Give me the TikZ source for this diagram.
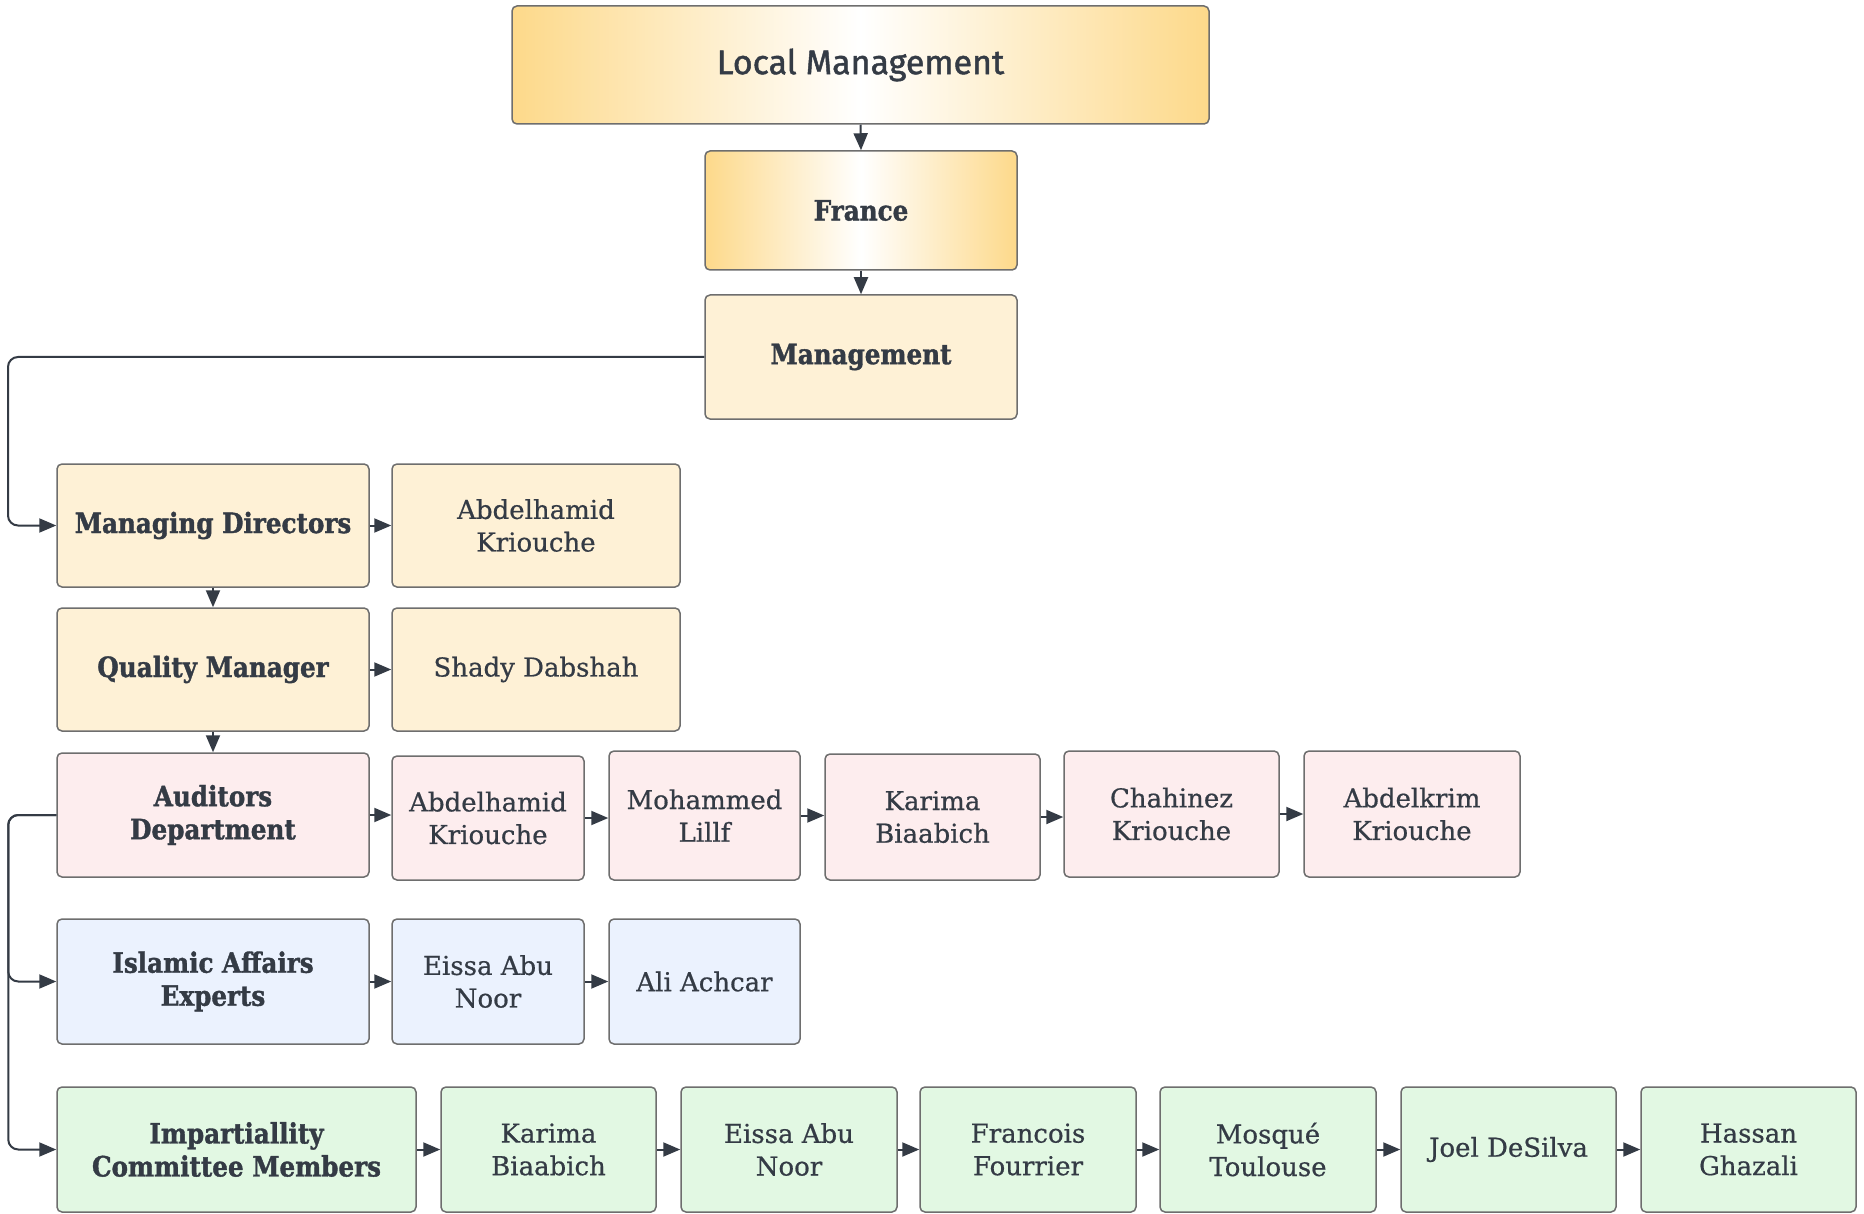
\documentclass[tikz,border=0pt]{standalone}
\usepackage{fontspec}
\setmainfont{DejaVu Serif}[FakeBold=0.6, BoldFeatures={FakeStretch=0.88, FakeBold=1.3}]
\newfontfamily\titlefont{Fira Sans}[FakeBold=1.3]
\usetikzlibrary{arrows.meta}

\definecolor{ink}{HTML}{343B45}
\definecolor{edge}{HTML}{6E6E6E}
\definecolor{gold}{HTML}{FDD98A}
\definecolor{cream}{HTML}{FEF1D6}
\definecolor{rose}{HTML}{FDEDEE}
\definecolor{sky}{HTML}{EBF2FE}
\definecolor{mint}{HTML}{E2F8E3}

% box given by its corners in pixel units: name, style, x1, y1, x2, y2, text
\newcommand\orgbox[7]{%
  \node[#2, minimum width={(#5-#3)*0.5pt}, minimum height={(#6-#4)*0.5pt}]
    (#1) at ({(#3+#5)/2},{(#4+#6)/2}) {#7};}

\tikzset{
  card/.style={draw=edge, line width=0.75pt, rounded corners=2.5pt, inner sep=0pt,
    align=center, text=ink, font=\fontsize{13}{16.3}\selectfont},
  head/.style={card, font=\fontsize{14}{16.5}\selectfont\bfseries},
  glow/.style={head, left color=gold, right color=gold, middle color=white},
  yel/.style={card, fill=cream},
  yelhead/.style={head, fill=cream},
  pinkbox/.style={card, fill=rose},
  pinkhead/.style={head, fill=rose},
  bluebox/.style={card, fill=sky},
  bluehead/.style={head, fill=sky},
  greenbox/.style={card, fill=mint},
  greenhead/.style={head, fill=mint},
  link/.style={draw=ink, line width=1pt, -{Triangle[length=8.5pt,width=7pt]}},
}

\begin{document}
\begin{tikzpicture}[x=0.5pt, y=-0.5pt]
\useasboundingbox[fill=white] (0,0) rectangle (1864,1214);

% top chain
\orgbox{lm}{glow, font=\fontsize{17}{20}\titlefont}{512}{6}{1209}{124}{Local Management}
\orgbox{fr}{glow}{705}{151}{1017}{270}{France}
\orgbox{mg}{yelhead}{705}{295}{1017}{419}{Management}

% directors and quality
\orgbox{md}{yelhead}{57}{464}{369}{587}{Managing Directors}
\orgbox{ak1}{yel}{392}{464}{680}{587}{Abdelhamid\\Kriouche}
\orgbox{qm}{yelhead}{57}{608}{369}{731}{Quality Manager}
\orgbox{sd}{yel}{392}{608}{680}{731}{Shady Dabshah}

% auditors
\orgbox{aud}{pinkhead}{57}{753}{369}{877}{Auditors\\Department}
\orgbox{ak2}{pinkbox}{392}{756}{584}{880}{Abdelhamid\\Kriouche}
\orgbox{ml}{pinkbox}{609}{751}{800}{880}{Mohammed\\Lillf}
\orgbox{kb1}{pinkbox}{825}{754}{1040}{880}{Karima\\Biaabich}
\orgbox{ck}{pinkbox}{1064}{751}{1279}{877}{Chahinez\\Kriouche}
\orgbox{abk}{pinkbox}{1304}{751}{1520}{877}{Abdelkrim\\Kriouche}

% islamic affairs
\orgbox{isl}{bluehead}{57}{919}{369}{1044}{Islamic Affairs\\Experts}
\orgbox{ean1}{bluebox}{392}{919}{584}{1044}{Eissa Abu\\Noor}
\orgbox{aa}{bluebox}{609}{919}{800}{1044}{Ali Achcar}

% impartiality committee
\orgbox{imp}{greenhead}{57}{1087}{416}{1212}{Impartiallity\\Committee Members}
\orgbox{kb2}{greenbox}{441}{1087}{656}{1212}{Karima\\Biaabich}
\orgbox{ean2}{greenbox}{681}{1087}{897}{1212}{Eissa Abu\\Noor}
\orgbox{ff}{greenbox}{920}{1087}{1136}{1212}{Francois\\Fourrier}
\orgbox{mt}{greenbox}{1160}{1087}{1376}{1212}{Mosqué\\Toulouse}
\orgbox{jd}{greenbox}{1401}{1087}{1616}{1212}{Joel DeSilva}
\orgbox{hg}{greenbox}{1641}{1087}{1856}{1212}{Hassan\\Ghazali}

% vertical links
\draw[link] (lm.south) -- (fr.north);
\draw[link] (fr.south) -- (mg.north);
\draw[link] (md.south) -- (qm.north);
\draw[link] (qm.south) -- (aud.north);

% management feeds the directors
\draw[link, rounded corners=5pt] (mg.west) -- (8,357) |- (md.west);

% auditors bus to the other departments
\draw[link, rounded corners=5pt] (aud.west) -- ++(-48,0) |- (isl.west);
\draw[link, rounded corners=5pt] (aud.west) -- ++(-48,0) |- (imp.west);

% horizontal chains
\foreach \a/\b in {md/ak1, qm/sd, aud/ak2, ak2/ml, ml/kb1, kb1/ck, ck/abk,
                   isl/ean1, ean1/aa, imp/kb2, kb2/ean2, ean2/ff, ff/mt, mt/jd, jd/hg}
  \draw[link] (\a.east) -- (\a.east -| \b.west);
\end{tikzpicture}
\end{document}
